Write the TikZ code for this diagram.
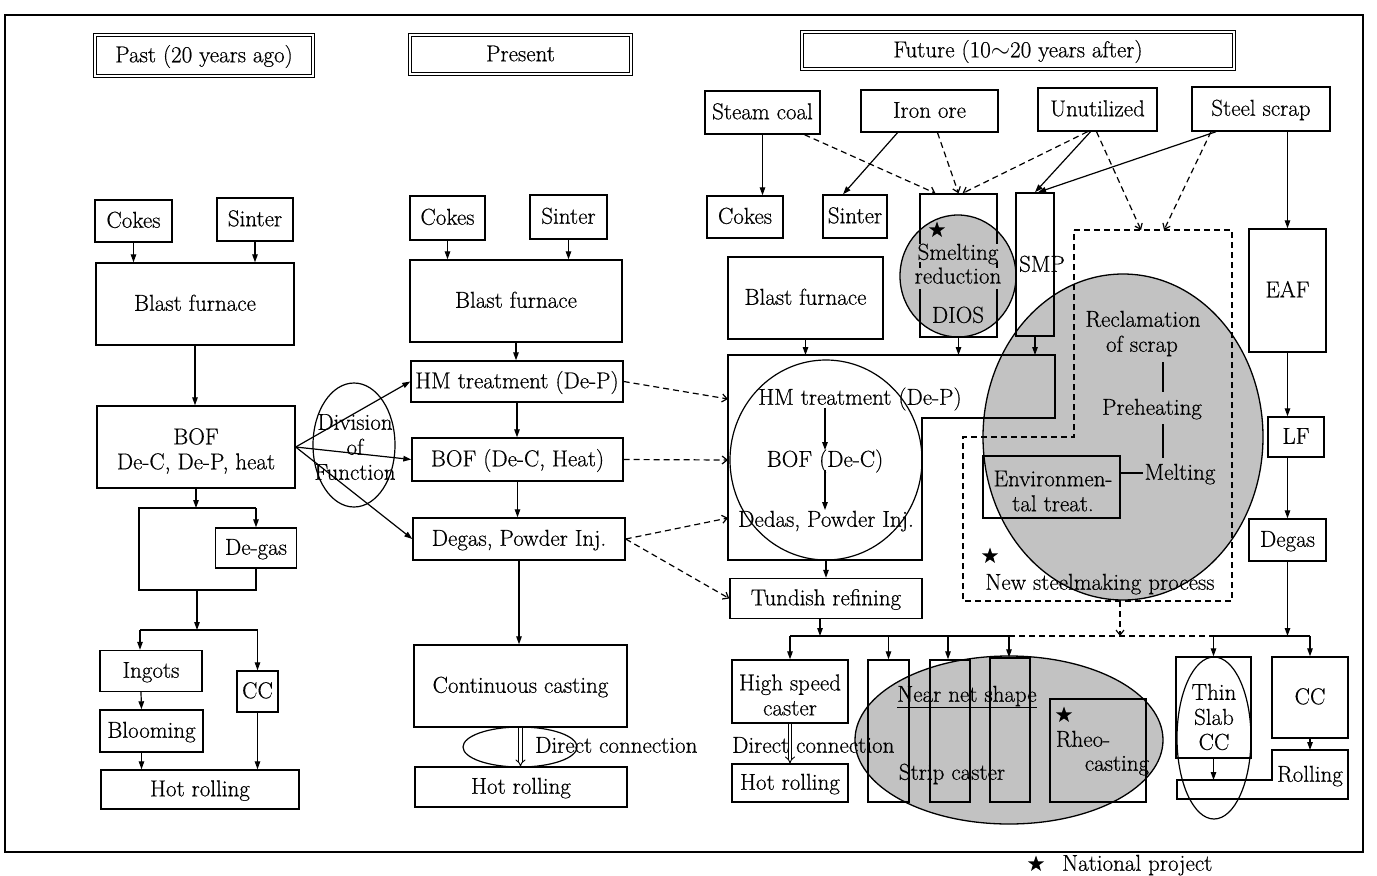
\documentclass[tikz,border=0pt]{standalone}
\usepackage{fontspec}
\setmainfont{Latin Modern Roman}[FakeBold=0.5]
\usetikzlibrary{arrows.meta,shapes.geometric,calc}
\definecolor{shade}{gray}{0.76}
\begin{document}
\begin{tikzpicture}[x=1pt,y=-1pt,
  every node/.style={font=\fontsize{23}{25}\selectfont},
  bx/.style={draw,line width=1.4pt,inner sep=0pt,align=center,text height=15.5pt,text depth=2pt},
  hd/.style={draw,double,double distance=2.4pt,line width=1pt,inner sep=0pt,text height=15.5pt,text depth=2pt},
  lbl/.style={inner sep=1pt,align=center,text height=15.5pt,text depth=2pt},
  mlbl/.style={inner sep=1pt,align=center},
  arr/.style={line width=1.2pt,-{Triangle[length=8pt,width=5.5pt]}},
  ln/.style={line width=1.2pt},
  darr/.style={line width=1.2pt,dash pattern=on 6pt off 4pt,-{Straight Barb[length=5pt,width=8pt]}},
  dln/.style={line width=1.2pt,dash pattern=on 6pt off 4pt},
  dbl/.style={double,line width=0.9pt,double distance=2.6pt,-{Implies}},
  gry/.style={ellipse,fill=shade,draw,line width=1.3pt,inner sep=0pt},
  wel/.style={ellipse,draw,line width=1.2pt,inner sep=0pt},
  starm/.style={star,star points=5,star point ratio=2.5,fill=black,inner sep=0pt,minimum size=17pt}
]
\useasboundingbox (0,0) rectangle (1377,876);
\fill[white] (0,0) rectangle (1377,876);
\draw[line width=1.8pt] (5,15) rectangle (1363,852);

% ---------- headers
\node[hd,minimum width=218pt,minimum height=41pt] (hpast) at (204,55.5) {Past (20 years ago)};
\node[hd,minimum width=221pt,minimum height=39pt] (hpres) at (520.5,54.5) {Present};
\node[hd,minimum width=432pt,minimum height=37pt] (hfut) at (1018,50.5) {Future (10$\sim$20 years after)};

% ---------- Past
\node[bx,minimum width=77pt,minimum height=42pt] (pcok) at (133.5,221) {Cokes};
\node[bx,minimum width=76pt,minimum height=43pt] (psin) at (255,219.5) {Sinter};
\node[bx,minimum width=198pt,minimum height=82pt] (pbf) at (195,304) {Blast furnace};
\node[bx,minimum width=198pt,minimum height=82pt] (pbof) at (196,447) {};
\node[mlbl] (pboft) at (196,451) {BOF\\De-C, De-P, heat};
\node[bx,minimum width=81pt,minimum height=40pt] (pdeg) at (256,548) {De-gas};
\node[bx,minimum width=102pt,minimum height=41pt] (ping) at (151,671) {Ingots};
\node[bx,minimum width=103pt,minimum height=42pt] (pblo) at (151.5,731) {Blooming};
\node[bx,minimum width=41pt,minimum height=41pt] (pcc) at (257.5,691.5) {CC};
\node[bx,minimum width=198pt,minimum height=39pt] (phr) at (200,789.5) {Hot rolling};

\draw[arr] (pcok.south) -- (pcok.south |- pbf.north);
\draw[arr] (psin.south) -- (psin.south |- pbf.north);
\draw[arr] (pbf.south) -- (pbf.south |- pbof.north);
\coordinate (lpTL) at (139,508);
\coordinate (lpTR) at (256,508);
\coordinate (lpBR) at (256,590);
\coordinate (lpBL) at (139,590);
\draw[ln] (pdeg.south) -- (lpBR) -- (lpBL) -- (lpTL) -- (lpTR);
\draw[arr] (lpTR) -- (pdeg.north);
\draw[arr] (pbof.south) -- (pbof.south |- lpTL);
\coordinate (pbr) at (197,630);
\coordinate (pbrL) at (140,630);
\coordinate (pbrR) at (257.5,630);
\draw[arr] (pbr |- lpBL) -- (pbr);
\draw[ln] (pbrL) -- (pbrR);
\draw[arr] (pbrL) -- (pbrL |- ping.north);
\draw[arr] (pbrR) -- (pcc.north);
\draw[arr] ($(ping.south)+(-10,0)$) -- ($(pblo.north)+(-10,0)$);
\draw[arr] ($(pblo.south)+(-10,0)$) -- ($(phr.north)+(-58.5,0)$);
\draw[arr] (pcc.south) -- (pcc.south |- phr.north);

% Division of function
\node[wel,minimum width=82pt,minimum height=124pt] (divel) at (354,445) {};
\node[mlbl] (divtx) at (355,447) {Division\\of\\Function};

% ---------- Present
\node[bx,minimum width=75pt,minimum height=44pt] (ccok) at (447.5,218) {Cokes};
\node[bx,minimum width=77pt,minimum height=44pt] (csin) at (568.5,217) {Sinter};
\node[bx,minimum width=212pt,minimum height=82pt] (cbf) at (516,301) {Blast furnace};
\node[bx,minimum width=212pt,minimum height=41pt] (chm) at (517,381.5) {HM treatment (De-P)};
\node[bx,minimum width=211pt,minimum height=43pt] (cbof) at (517.5,459.5) {BOF (De-C, Heat)};
\node[bx,minimum width=212pt,minimum height=42pt] (cdeg) at (519,539) {Degas, Powder Inj.};
\node[bx,minimum width=213pt,minimum height=82pt] (ccc) at (520.5,686) {Continuous casting};
\node[bx,minimum width=212pt,minimum height=40pt] (chr) at (521,787) {Hot rolling};

\draw[arr] (pbof.east) -- (chm.west);
\draw[arr] (pbof.east) -- (cbof.west);
\draw[arr] (pbof.east) -- (cdeg.west);

\draw[arr] (ccok.south) -- (ccok.south |- cbf.north);
\draw[arr] (csin.south) -- (csin.south |- cbf.north);
\draw[arr] (cbf.south) -- (cbf.south |- chm.north);
\draw[arr] (chm.south) -- (chm.south |- cbof.north);
\draw[arr] (cbof.south) -- (cbof.south |- cdeg.north);
\draw[arr] (cdeg.south) -- (cdeg.south |- ccc.north);
\node[wel,minimum width=114pt,minimum height=40pt] (cdel) at (520,747) {};
\draw[dbl] (ccc.south) -- (ccc.south |- chr.north);
\node[lbl,anchor=west] (cdtx) at (534,746) {Direct connection};

% ---------- Future: gray areas first
\node[gry,minimum width=116pt,minimum height=122pt] (dcirc) at (958,276) {};
\node[gry,minimum width=280pt,minimum height=326pt] (nsel) at (1123,437) {};
\node[gry,minimum width=308pt,minimum height=168pt] (nnel) at (1009,740) {};

% sources
\node[bx,minimum width=115pt,minimum height=43pt] (fsc) at (762.5,112.5) {Steam coal};
\node[bx,minimum width=137pt,minimum height=42pt] (fio) at (929.5,111) {Iron ore};
\node[bx,minimum width=119pt,minimum height=43pt] (fun) at (1097.5,109.5) {Unutilized};
\node[bx,minimum width=138pt,minimum height=44pt] (fss) at (1261,109) {Steel scrap};

\node[bx,minimum width=76pt,minimum height=42pt] (fcok) at (745,217) {Cokes};
\node[bx,minimum width=64pt,minimum height=43pt] (fsin) at (855,216.5) {Sinter};
\node[bx,minimum width=155pt,minimum height=82pt] (fbf) at (805.5,298) {Blast furnace};

% DIOS
\node[bx,minimum width=77pt,minimum height=143pt] (dios) at (958.5,265.5) {};
\node[lbl,fill=shade,inner sep=0.5pt] (smelt) at (958,253) {Smelting};
\node[lbl,fill=shade,inner sep=0.5pt,text depth=4.5pt] (reduc) at (958,278) {reduction};
\node[lbl] (diostx) at (958,316) {DIOS};
\node[starm] (st1) at (937,230) {};

% SMP
\node[bx,minimum width=38pt,minimum height=143pt] (smp) at (1035,264.5) {};
\node[lbl] (smptx) at (1042,265) {SMP};

% source connectors
\draw[arr] (fsc.south) -- (fsc.south |- fcok.north);
\draw[arr] ($(fio.south)+(-32,0)$) -- ($(fsin.north)+(-12,0)$);
\draw[darr] ($(fsc.south)+(42,0)$) -- ($(dios.north)+(-23,0)$);
\draw[darr] ($(fio.south)+(8,0)$) -- (dios.north);
\draw[darr] ($(fun.south)+(-10,0)$) -- ($(dios.north)+(4,0)$);
\draw[arr] ($(fun.south)+(-7,0)$) -- ($(smp.north)+(0,0)$);
\draw[arr] ($(fss.south)+(-45,0)$) -- ($(smp.north)+(3,0)$);

% group (HM treatment ...)
\coordinate (gA) at (728,355);
\coordinate (gB) at (1055,355);
\coordinate (gC) at (1055,418);
\coordinate (gD) at (922,418);
\coordinate (gE) at (922,560);
\coordinate (gF) at (728,560);
\draw[line width=1.4pt] (gA) -- (gB) -- (gC) -- (gD) -- (gE) -- (gF) -- cycle;
\node[wel,minimum width=192pt,minimum height=200pt] (grel) at (826,460) {};
\node[lbl] (fhm) at (860,398) {HM treatment (De-P)};
\node[lbl] (fbof) at (825,460) {BOF (De-C)};
\node[lbl] (fdeg) at (826,520) {Dedas, Powder Inj.};
\draw[arr] (fbof.north |- fhm.south) -- (fbof.north);
\draw[arr] (fbof.south) -- (fbof.south |- fdeg.north);
\draw[arr] (fbf.south) -- (fbf.south |- gA);
\draw[arr] (dios.south) -- (dios.south |- gA);
\draw[arr] (smp.south) -- (smp.south |- gA);

\node[bx,minimum width=192pt,minimum height=40pt] (ftun) at (826,598.5) {Tundish refining};
\draw[arr] (ftun.north |- gF) -- (ftun.north);

\coordinate (gL1) at (728,399);
\coordinate (gL2) at (728,460);
\coordinate (gL3) at (728,518);
\draw[darr] (chm.east) -- (gL1);
\draw[darr] (cbof.east) -- (gL2);
\draw[darr] (cdeg.east) -- (gL3);
\draw[darr] (cdeg.east) -- (ftun.west);

% new steelmaking process
\coordinate (nA) at (1074,230);
\coordinate (nB) at (1232,230);
\coordinate (nC) at (1232,601);
\coordinate (nD) at (963,601);
\coordinate (nE) at (963,437);
\coordinate (nF) at (1074,437);
\draw[dln] (nA) -- (nB) -- (nC) -- (nD) -- (nE) -- (nF) -- cycle;
\coordinate (nT1) at (1141,230);
\coordinate (nT2) at (1164,230);
\draw[darr] ($(fun.south)+(-1,0)$) -- (nT1);
\draw[darr] ($(fss.south)+(-50,0)$) -- (nT2);

\node[lbl] (recl) at (1143,320) {Reclamation};
\node[lbl] (ofsc) at (1142,345) {of scrap};
\node[lbl] (preh) at (1152,408) {Preheating};
\node[lbl] (melt) at (1180,473) {Melting};
\coordinate (v1a) at (1163,362);
\coordinate (v1b) at (1163,392);
\coordinate (v2a) at (1163,424);
\coordinate (v2b) at (1163,458);
\draw[ln] (v1a) -- (v1b);
\draw[ln] (v2a) -- (v2b);
\node[bx,minimum width=137pt,minimum height=62pt] (envb) at (1051.5,487) {};
\node[mlbl] (envt) at (1053,491) {Environmen-\\tal treat.};
\draw[ln] (envb.east |- melt.west) -- (melt.west);
\node[starm] (st2) at (990,556) {};
\node[lbl] (nstx) at (1100,583) {New steelmaking process};

% EAF route
\node[bx,minimum width=77pt,minimum height=123pt] (eaf) at (1287.5,290.5) {EAF};
\node[bx,minimum width=56pt,minimum height=40pt] (flf) at (1296,437) {LF};
\node[bx,minimum width=77pt,minimum height=42pt] (fdg2) at (1287.5,540) {Degas};
\draw[arr] (eaf.north |- fss.south) -- (eaf.north);
\draw[arr] (eaf.south) -- (eaf.south |- flf.north);
\draw[arr] (eaf.south |- flf.south) -- (fdg2.north);

% casting
\node[bx,minimum width=116pt,minimum height=63pt] (hsc) at (790,691.5) {};
\node[mlbl] (hsct) at (790,695) {High speed\\caster};
\node[bx,minimum width=116pt,minimum height=38pt] (fhr) at (790,783) {Hot rolling};
\draw[dbl] (hsc.south) -- (fhr.north);
\node[lbl,anchor=west] (fdtx) at (731,746) {Direct connection};

\node[bx,minimum width=41pt,minimum height=142pt] (s1) at (888.5,731) {};
\node[bx,minimum width=40pt,minimum height=142pt] (s2) at (950,731) {};
\node[bx,minimum width=40pt,minimum height=144pt] (s3) at (1010,730) {};
\node[bx,minimum width=96pt,minimum height=103pt] (rheo) at (1098,750.5) {};
\node[lbl] (nns) at (967,695) {\underline{Near net shape}};
\node[lbl] (stc) at (952,773) {Strip caster};
\node[starm] (st3) at (1064,715) {};
\node[lbl] (rh1) at (1083,740) {Rheo-};
\node[lbl] (rh2) at (1117,764) {casting};

\node[bx,minimum width=75pt,minimum height=101pt] (fthin) at (1213.5,707.5) {};
\node[wel,minimum width=74pt,minimum height=162pt] (thel) at (1214,738) {};
\node[mlbl] (thtx) at (1214,717) {Thin\\Slab\\CC};
\node[bx,minimum width=76pt,minimum height=81pt] (fcc2) at (1310,697.5) {CC};
\coordinate (rA) at (1177,780);
\coordinate (rB) at (1272,780);
\coordinate (rC) at (1272,750);
\coordinate (rD) at (1348,750);
\coordinate (rE) at (1348,799);
\coordinate (rF) at (1177,799);
\draw[line width=1.4pt] (rA) -- (rB) -- (rC) -- (rD) -- (rE) -- (rF) -- cycle;
\node[lbl] (rolltx) at (1310,775) {Rolling};
\draw[arr] (fthin.south) -- (fthin.south |- rA);
\draw[arr] (fcc2.south) -- (fcc2.south |- rC);

% branches
\coordinate (rbr) at (1287.5,636);
\coordinate (rbL) at (1213.5,636);
\coordinate (rbR) at (1310,636);
\draw[arr] (fdg2.south) -- (rbr);
\draw[ln] (rbL) -- (rbR);
\draw[arr] (rbL) -- (fthin.north);
\draw[arr] (rbR) -- (fcc2.north);

\coordinate (tbr) at (820,636);
\coordinate (bL) at (790,636);
\coordinate (b1) at (888.5,636);
\coordinate (b2) at (948,636);
\coordinate (b3) at (1009,636);
\coordinate (bDash) at (1120,636);
\draw[arr] (ftun.south -| tbr) -- (tbr);
\draw[ln] (bL) -- (b3);
\draw[arr] (bL) -- (hsc.north);
\draw[arr] (b1) -- (b1 |- s1.north);
\draw[arr] (b2) -- (b2 |- s2.north);
\draw[arr] (b3) -- (b3 |- s3.north);
\draw[dln] (b3) -- (rbL);
\draw[darr] (nD -| bDash) -- (bDash);

% legend
\node[starm] (st4) at (1036,864) {};
\node[lbl,anchor=west] (natp) at (1061,864) {National project};
\end{tikzpicture}
\end{document}
